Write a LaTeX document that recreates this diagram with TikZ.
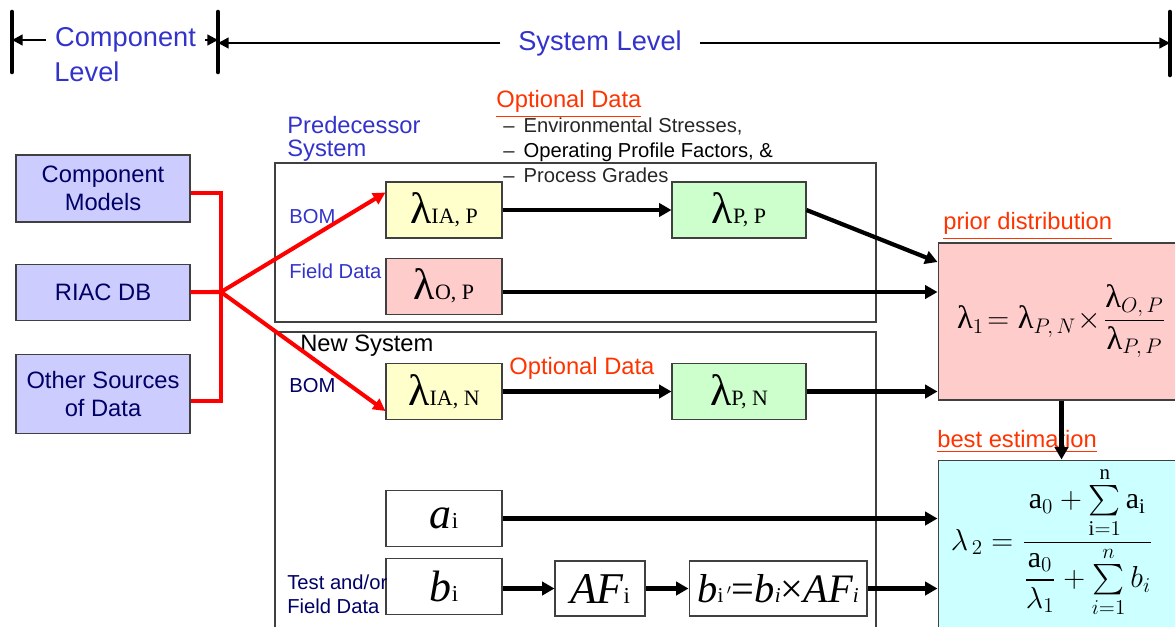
\documentclass[tikz,border=0pt]{standalone}
\usepackage{amsmath}
\usepackage{fontspec}
\setmainfont{Liberation Serif}
\setsansfont{Liberation Sans}
\usetikzlibrary{positioning,arrows.meta,calc}

\definecolor{lvlblue}{RGB}{51,51,204}
\definecolor{navy}{RGB}{0,0,102}
\definecolor{optred}{RGB}{255,51,0}
\definecolor{srcfill}{RGB}{204,204,255}
\definecolor{yelfill}{RGB}{255,255,204}
\definecolor{grnfill}{RGB}{204,255,204}
\definecolor{pnkfill}{RGB}{255,204,204}
\definecolor{cyafill}{RGB}{204,255,255}

% lambda with a same-baseline index, as in the source slide
\newcommand{\lam}[1]{{\fontsize{25}{25}\selectfont λ}{\fontsize{12.5}{12.5}\selectfont #1}}
\newcommand{\bigv}[2]{{\fontsize{25}{25}\selectfont\itshape #1}{\fontsize{13}{13}\selectfont #2}}

\begin{document}
\begin{tikzpicture}[x=0.02cm,y=-0.02cm,
  blk/.style={draw=black!75,line width=0.6pt,inner sep=0pt,font=\rmfamily,minimum width=2.32cm,minimum height=1.12cm},
  src/.style={blk,fill=srcfill,minimum width=3.48cm,align=center,text=navy,font=\sffamily\fontsize{13.5}{16}\selectfont},
  lbl/.style={anchor=west,inner sep=0pt,font=\sffamily\fontsize{11.5}{14}\selectfont},
  big/.style={inner sep=0pt,font=\sffamily\fontsize{15.5}{18}\selectfont,text=lvlblue},
  frame/.style={draw=black!75,line width=0.6pt},
  bar/.style={line width=2.6pt,line cap=round},
  dim/.style={line width=1.3pt,-{Triangle[length=6pt,width=6pt]}},
  arr/.style={line width=2.4pt,-{Triangle[length=7pt,width=7.5pt]}},
  redln/.style={red,line width=2.3pt},
  redarr/.style={redln,-{Triangle[length=7pt,width=7pt]}}]
  \useasboundingbox (0,0) rectangle (1175,626);

  % level ruler
  \coordinate (b1) at (12,43);
  \coordinate (b2) at (218,43);
  \coordinate (b3) at (1170,43);
  \draw[bar] (12,12) -- (12,72);
  \draw[bar] (218,12) -- (218,72);
  \draw[bar] (1170,12) -- (1170,75);
  \node[big,anchor=west,inner xsep=5pt] (comptxt) at (46,40) {Component};
  \node[big,anchor=west] (levtxt) at (54,72) {Level};
  \node[big,inner xsep=10pt] (systxt) at (600,43) {System Level};
  \draw[dim] (comptxt.west) -- (comptxt.west -| b1);
  \draw[dim] (comptxt.east) -- (comptxt.east -| b2);
  \draw[dim] (systxt.west) -- (systxt.west -| b2);
  \draw[dim] (systxt.east) -- (systxt.east -| b3);

  % component level sources
  \node[src,minimum height=1.34cm] (cmp) at (103,188.5) {Component\\Models};
  \node[src,minimum height=1.12cm,below=0.82cm of cmp] (riac) {RIAC DB};
  \node[src,minimum height=1.58cm,below=0.66cm of riac] (oth) {Other Sources\\of Data};

  % system frames
  \draw[frame] (275,163) rectangle (876,322);
  \draw[frame] (275,332) rectangle (876,640);
  \node[lbl,align=left,text=lvlblue,font=\sffamily\fontsize{13.5}{13}\selectfont] (predtxt) at (287,139) {Predecessor\\System};
  \node[lbl,text=black,font=\sffamily\fontsize{13.5}{16}\selectfont] (newtxt) at (300,346) {New System};

  \node[lbl,text=optred,font=\sffamily\fontsize{13.5}{16}\selectfont] (opt1) at (496,104) {\underline{Optional Data}};
  \node[lbl,anchor=north west,align=left,text=black!85,font=\sffamily\fontsize{11.5}{14}\selectfont] (optlist) at (503,118)
    {--\, Environmental Stresses,\\--\, \textcolor{black}{Operating Profile Factors, \&}\\--\, Process Grades};

  % predecessor system
  \node[blk,fill=yelfill] (iap) at (444,210) {\lam{IA, P}};
  \node[blk,fill=grnfill,minimum width=2.68cm,right=3.38cm of iap] (pp) {\lam{P, P}};
  \node[blk,fill=pnkfill,below=0.38cm of iap] (op) {\lam{O, P}};
  \node[lbl,text=lvlblue] (bom1) at (289,217) {BOM};
  \node[lbl,text=lvlblue] (fld1) at (289,271) {Field Data};

  % new system
  \node[blk,fill=yelfill] (ian) at (444,391.5) {\lam{IA, N}};
  \node[blk,fill=grnfill,minimum width=2.68cm,right=3.38cm of ian] (pn) {\lam{P, N}};
  \node[lbl,text=navy] (bom2) at (289,386) {BOM};
  \node[lbl,text=optred,font=\sffamily\fontsize{13.5}{16}\selectfont] (opt2) at (509,368) {Optional Data};

  \node[blk] (ai) at (444,518.5) {\bigv{a}{i}};
  \node[blk,below=0.22cm of ai] (bi) {\bigv{b}{i}};
  \node[blk,minimum width=1.8cm,minimum height=1.1cm] (af) at (600,588.5) {\bigv{AF}{i}};
  \node[blk,minimum width=3.56cm,minimum height=1.1cm] (bp) at (778,588.5)
    {{\fontsize{23}{23}\selectfont\itshape b}{\fontsize{12}{12}\selectfont i\,$'$}{\fontsize{23}{23}\selectfont =\itshape b}{\fontsize{12}{12}\selectfont\itshape i}{\fontsize{23}{23}\selectfont ×\itshape AF}{\fontsize{12}{12}\selectfont\itshape i}};
  \node[lbl,align=left,text=navy,font=\sffamily\fontsize{11.5}{13.5}\selectfont] (tst) at (287,594) {Test and/or\\Field Data};

  % estimates
  \node[blk,fill=pnkfill,minimum width=4.94cm,minimum height=3.14cm] (prior) at (1061.5,321.5)
    {\fontsize{18.5}{18.5}\selectfont$\mbox{λ}_{1}\!=\mbox{λ}_{P,\,N}\!\times\!\dfrac{\mbox{λ}_{O,\,P}}{\mbox{λ}_{P,\,P}}$\hspace{12pt}};
  \node[blk,fill=cyafill,minimum width=4.94cm,minimum height=3.6cm] (best) at (1061.5,550) {};
  \node[inner sep=0pt,font=\fontsize{17}{17}\selectfont] (bestf) at (1052,542)
    {$\lambda_{\,2}=\dfrac{\mathrm{a}_0+\sum\limits_{\mathrm{i}=1}^{\mathrm{n}}\mathrm{a}_{\mathrm{i}}}{\dfrac{\mathrm{a}_0}{\lambda_1}+\sum\limits_{i=1}^{n}b_i}$};
  \node[lbl,text=optred,font=\sffamily\fontsize{13.5}{16}\selectfont] (priortxt) at (943,226) {\underline{prior distribution}};
  \node[lbl,text=optred,font=\sffamily\fontsize{13.5}{16}\selectfont] (besttxt) at (937,442) {\underline{best estimation}};

  % red feeds
  \coordinate (hub) at (221,292);
  \draw[redln] (cmp.east |- 0,193) -- (hub |- 0,193) -- (hub |- 0,401) -- (oth.east |- 0,401);
  \draw[redln] (riac.east) -- (hub);
  \draw[redarr] (hub) -- ($(iap.north west)+(0,11)$);
  \draw[redarr] (hub) -- ($(ian.south west)+(0,-9)$);

  % black flows
  \draw[arr] (iap) -- (pp);
  \draw[arr] (pp.east) -- (prior.west |- 0,262);
  \draw[arr] (op.east |- 0,292) -- (prior.west |- 0,292);
  \draw[arr] (ian) -- (pn);
  \draw[arr] (pn.east) -- (prior.west |- pn.east);
  \draw[arr] (prior.south) -- (best.north);
  \draw[arr] (ai) -- (best.west |- ai);
  \draw[arr] (bi.east |- af) -- (af);
  \draw[arr] (af) -- (bp);
  \draw[arr] (bp) -- (best.west |- bp);
\end{tikzpicture}
\end{document}
